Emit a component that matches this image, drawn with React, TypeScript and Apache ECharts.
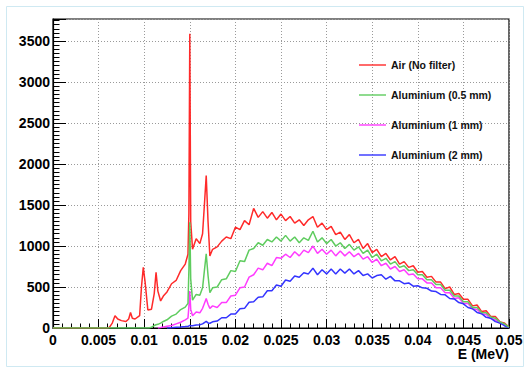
import React, { useEffect, useRef } from "react";
import * as echarts from "echarts";

const seriesNames = ["Air (No filter)", "Aluminium (0.5 mm)", "Aluminium (1 mm)", "Aluminium (2 mm)"];
const seriesColors = ["#ff2a2a", "#5fcc5f", "#ff3cff", "#3434ff"];

const airNoFilter: [number, number][] = [
  [0, 0], [0.006, 0], [0.0062, 10], [0.0065, 60], [0.0068, 150], [0.0071, 110], [0.0075, 90], [0.008, 80],
  [0.0083, 110], [0.0085, 190], [0.0087, 120], [0.009, 110], [0.0095, 150], [0.0097, 500], [0.0099, 740],
  [0.0101, 560], [0.0104, 220], [0.0108, 230], [0.0111, 420], [0.0113, 680], [0.0115, 450], [0.0118, 330],
  [0.0121, 390], [0.0125, 440], [0.013, 540], [0.0135, 580], [0.014, 700], [0.0145, 780], [0.0148, 900],
  [0.0149, 1400], [0.015, 3590], [0.0151, 1300], [0.0153, 960], [0.0157, 1090], [0.0161, 1030], [0.0164, 1150],
  [0.0166, 1500], [0.0168, 1860], [0.017, 1300], [0.0172, 880], [0.0175, 960], [0.018, 990], [0.0185, 1060],
  [0.019, 1110], [0.0195, 1090], [0.02, 1230], [0.0205, 1200], [0.021, 1310], [0.0215, 1260], [0.022, 1460],
  [0.0225, 1350], [0.023, 1420], [0.0235, 1340], [0.024, 1410], [0.0245, 1320], [0.025, 1390], [0.0255, 1310],
  [0.026, 1360], [0.0265, 1280], [0.027, 1320], [0.0275, 1250], [0.028, 1320], [0.0285, 1360], [0.029, 1230],
  [0.0295, 1280], [0.03, 1200], [0.0305, 1240], [0.031, 1140], [0.0315, 1170], [0.032, 1080], [0.0325, 1140],
  [0.033, 1040], [0.0335, 1080], [0.034, 970], [0.0345, 1030], [0.035, 920], [0.0355, 960], [0.036, 870],
  [0.0365, 910], [0.037, 830], [0.0375, 870], [0.038, 780], [0.0385, 810], [0.039, 740], [0.0395, 760],
  [0.04, 680], [0.0405, 690], [0.041, 620], [0.0415, 630], [0.042, 560], [0.0425, 560], [0.043, 480],
  [0.0435, 500], [0.044, 410], [0.0445, 420], [0.045, 350], [0.0455, 350], [0.046, 270], [0.0465, 280],
  [0.047, 200], [0.0475, 210], [0.048, 140], [0.0485, 140], [0.049, 75], [0.0495, 60], [0.05, 10],
];

const aluminium05: [number, number][] = [
  [0, 0], [0.005, 0], [0.0105, 0], [0.0108, 10], [0.0111, 30], [0.0113, 40], [0.0115, 45], [0.0118, 60],
  [0.0121, 80], [0.0125, 100], [0.013, 145], [0.0135, 170], [0.014, 225], [0.0145, 255], [0.0148, 300],
  [0.0149, 700], [0.015, 1290], [0.0151, 600], [0.0153, 340], [0.0157, 410], [0.0161, 400], [0.0164, 490],
  [0.0166, 700], [0.0168, 905], [0.017, 640], [0.0172, 430], [0.0175, 490], [0.018, 500], [0.0185, 590],
  [0.019, 600], [0.0195, 700], [0.02, 690], [0.0205, 820], [0.021, 810], [0.0215, 950], [0.022, 970],
  [0.0225, 1040], [0.023, 1010], [0.0235, 1080], [0.024, 1050], [0.0245, 1110], [0.025, 1060], [0.0255, 1130],
  [0.026, 1060], [0.0265, 1110], [0.027, 1040], [0.0275, 1100], [0.028, 1070], [0.0285, 1180], [0.029, 1050],
  [0.0295, 1100], [0.03, 1030], [0.0305, 1080], [0.031, 1000], [0.0315, 1040], [0.032, 970], [0.0325, 1020],
  [0.033, 950], [0.0335, 990], [0.034, 910], [0.0345, 950], [0.035, 860], [0.0355, 900], [0.036, 820],
  [0.0365, 850], [0.037, 780], [0.0375, 810], [0.038, 740], [0.0385, 760], [0.039, 700], [0.0395, 710],
  [0.04, 650], [0.0405, 650], [0.041, 590], [0.0415, 590], [0.042, 530], [0.0425, 530], [0.043, 460],
  [0.0435, 460], [0.044, 390], [0.0445, 390], [0.045, 320], [0.0455, 320], [0.046, 250], [0.0465, 250],
  [0.047, 190], [0.0475, 185], [0.048, 135], [0.0485, 120], [0.049, 75], [0.0495, 50], [0.05, 10],
];

const aluminium1: [number, number][] = [
  [0.0115, 0], [0.0118, 5], [0.0121, 12], [0.0125, 20], [0.013, 30], [0.0135, 50], [0.014, 70], [0.0145, 100],
  [0.0148, 120], [0.0149, 260], [0.015, 450], [0.0151, 230], [0.0153, 150], [0.0157, 195], [0.0161, 185],
  [0.0164, 240], [0.0166, 300], [0.0168, 360], [0.017, 290], [0.0172, 240], [0.0175, 270], [0.018, 250],
  [0.0185, 310], [0.019, 310], [0.0195, 390], [0.02, 400], [0.0205, 490], [0.021, 500], [0.0215, 620],
  [0.022, 650], [0.0225, 730], [0.023, 710], [0.0235, 790], [0.024, 760], [0.0245, 860], [0.025, 850],
  [0.0255, 900], [0.026, 860], [0.0265, 930], [0.027, 880], [0.0275, 950], [0.028, 920], [0.0285, 1000],
  [0.029, 910], [0.0295, 960], [0.03, 900], [0.0305, 950], [0.031, 880], [0.0315, 940], [0.032, 880],
  [0.0325, 930], [0.033, 870], [0.0335, 910], [0.034, 840], [0.0345, 870], [0.035, 800], [0.0355, 840],
  [0.036, 760], [0.0365, 790], [0.037, 720], [0.0375, 750], [0.038, 690], [0.0385, 710], [0.039, 650],
  [0.0395, 660], [0.04, 600], [0.0405, 600], [0.041, 550], [0.0415, 550], [0.042, 490], [0.0425, 490],
  [0.043, 430], [0.0435, 430], [0.044, 360], [0.0445, 370], [0.045, 300], [0.0455, 300], [0.046, 235],
  [0.0465, 225], [0.047, 175], [0.0475, 165], [0.048, 115], [0.0485, 100], [0.049, 60], [0.0495, 40], [0.05, 5],
];

const aluminium2: [number, number][] = [
  [0.0125, 0], [0.013, 3], [0.0135, 8], [0.014, 12], [0.0145, 18], [0.0148, 22], [0.0149, 25], [0.015, 32],
  [0.0151, 26], [0.0153, 28], [0.0157, 36], [0.0161, 40], [0.0164, 50], [0.0166, 66], [0.0168, 80], [0.017, 62],
  [0.0172, 58], [0.0175, 75], [0.018, 85], [0.0185, 125], [0.019, 125], [0.0195, 170], [0.02, 170], [0.0205, 235],
  [0.021, 240], [0.0215, 315], [0.022, 320], [0.0225, 375], [0.023, 380], [0.0235, 455], [0.024, 455],
  [0.0245, 525], [0.025, 510], [0.0255, 585], [0.026, 570], [0.0265, 635], [0.027, 620], [0.0275, 675],
  [0.028, 660], [0.0285, 730], [0.029, 650], [0.0295, 710], [0.03, 660], [0.0305, 720], [0.031, 660],
  [0.0315, 720], [0.032, 670], [0.0325, 720], [0.033, 660], [0.0335, 700], [0.034, 640], [0.0345, 660],
  [0.035, 610], [0.0355, 640], [0.036, 650], [0.0365, 595], [0.037, 630], [0.0375, 575], [0.038, 575],
  [0.0385, 540], [0.039, 550], [0.0395, 510], [0.04, 515], [0.0405, 490], [0.041, 485], [0.0415, 450],
  [0.042, 445], [0.0425, 410], [0.043, 405], [0.0435, 360], [0.044, 355], [0.0445, 310], [0.045, 295],
  [0.0455, 250], [0.046, 235], [0.0465, 190], [0.047, 175], [0.0475, 130], [0.048, 120], [0.0485, 78],
  [0.049, 62], [0.0495, 28], [0.05, 5],
];

const allSeries = [airNoFilter, aluminium05, aluminium1, aluminium2];

const xMin = 0;
const xMax = 0.05;
const xStep = 0.005;
const yMin = 0;
const yMax = 3770;
const yStep = 500;

export default function App() {
  const ref = useRef<HTMLDivElement>(null);

  useEffect(() => {
    if (!ref.current) return;
    const chart = echarts.init(ref.current, null, { renderer: "svg" });
    const labelFont = {
      fontFamily: "Liberation Sans, Arial, sans-serif",
      fontWeight: "bold" as const,
      fontSize: 14,
      color: "#000",
    };
    chart.setOption({
      animation: false,
      backgroundColor: "#fff",
      graphic: [
        {
          type: "rect",
          shape: { x: 6.5, y: 6.5, width: 517, height: 360 },
          style: { fill: "none", stroke: "#cfe9f2", lineWidth: 1 },
          silent: true,
        },
      ],
      grid: {
        left: 53,
        top: 19,
        right: 20,
        bottom: 40,
        show: true,
        borderColor: "#000",
        borderWidth: 1.2,
        backgroundColor: "transparent",
      },
      legend: {
        orient: "vertical",
        left: 354,
        top: 53,
        itemWidth: 27,
        itemHeight: 14,
        itemGap: 16,
        icon: "path://M0 0H27V1.4H0Z",
        data: seriesNames,
        textStyle: {
          fontFamily: "Liberation Sans, Arial, sans-serif",
          fontWeight: "bold",
          fontSize: 10.5,
          color: "#111",
          lineHeight: 14,
        },
      },
      xAxis: {
        type: "value",
        min: xMin,
        max: xMax,
        interval: xStep,
        name: "E (MeV)",
        nameLocation: "end",
        nameGap: 0,
        nameTextStyle: {
          ...labelFont,
          align: "right",
          verticalAlign: "top",
          padding: [19, 0, 0, 0],
        },
        axisLine: { show: true, onZero: false, lineStyle: { color: "#000", width: 1.2 } },
        axisTick: { show: true, inside: true, length: 9, lineStyle: { color: "#000", width: 1 } },
        minorTick: { show: true, splitNumber: 5, length: 4.5, lineStyle: { color: "#000", width: 1 } },
        axisLabel: { ...labelFont, margin: 5, formatter: (v: number) => String(+v.toFixed(4)) },
        splitLine: { show: true, lineStyle: { color: "#9a9a9a", type: [1, 2], width: 1 } },
      },
      yAxis: {
        type: "value",
        min: yMin,
        max: yMax,
        interval: yStep,
        axisLine: { show: true, lineStyle: { color: "#000", width: 1.2 } },
        axisTick: { show: true, inside: true, length: 13, lineStyle: { color: "#000", width: 1 } },
        minorTick: { show: true, splitNumber: 10, length: 6.5, lineStyle: { color: "#000", width: 1 } },
        axisLabel: { ...labelFont, margin: 3, showMaxLabel: false, formatter: (v: number) => String(v) },
        splitLine: { show: true, lineStyle: { color: "#9a9a9a", type: [1, 2], width: 1 } },
      },
      series: allSeries.map((data, i) => ({
        name: seriesNames[i],
        type: "line",
        data,
        color: seriesColors[i],
        symbol: "none",
        showSymbol: false,
        lineStyle: { width: 1.5, color: seriesColors[i] },
        z: 2 + (i === 1 ? 4 : i),
      })),
    });
    return () => chart.dispose();
  }, []);

  return (
    <div
      ref={ref}
      style={{ position: "absolute", left: 0, top: 0, width: 529, height: 368 }}
    />
  );
}
